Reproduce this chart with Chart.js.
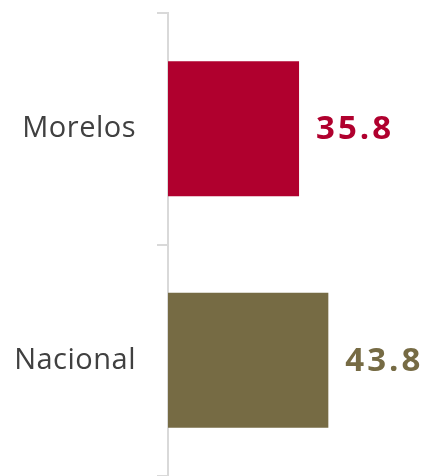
<!DOCTYPE html>
<html>
<head>
<meta charset="utf-8">
<script src="https://cdn.jsdelivr.net/npm/chart.js@4.4.1/dist/chart.umd.min.js"></script>
<style>
  html, body { margin: 0; padding: 0; background: #fff; }
  #wrap { width: 429px; height: 476px; position: relative; }
</style>
</head>
<body>
<div id="wrap"><canvas id="barChart"></canvas></div>
<script>
const categories = ['Morelos', 'Nacional'];
const values = [35.8, 43.8];
const barColors = ['#b0002e', '#766b44'];

// value labels at the end of each bar, same colour as the bar
const valueLabels = {
  id: 'valueLabels',
  afterDatasetsDraw(chart) {
    const ctx = chart.ctx;
    const meta = chart.getDatasetMeta(0);
    ctx.save();
    ctx.font = 'bold 33px "Open Sans", sans-serif';
    ctx.letterSpacing = '3px';
    ctx.textAlign = 'left';
    ctx.textBaseline = 'middle';
    meta.data.forEach((bar, i) => {
      ctx.fillStyle = barColors[i];
      ctx.fillText(values[i].toFixed(1), bar.x + 17, bar.y + 1);
    });
    ctx.restore();
  }
};

const spacing = {
  id: 'spacing',
  beforeDraw(chart) { chart.ctx.letterSpacing = '0.5px'; }
};

new Chart(document.getElementById('barChart'), {
  type: 'bar',
  data: {
    labels: categories,
    datasets: [{
      data: values,
      backgroundColor: barColors,
      borderWidth: 0,
      categoryPercentage: 1,
      barPercentage: 0.584
    }]
  },
  plugins: [spacing, valueLabels],
  options: {
    indexAxis: 'y',
    responsive: true,
    maintainAspectRatio: false,
    animation: false,
    layout: { padding: { top: 13, right: 0, bottom: 0, left: 0 } },
    plugins: {
      legend: { display: false },
      tooltip: { enabled: false }
    },
    scales: {
      x: { display: false, min: 0, max: 71.3 },
      y: {
        afterFit: (scale) => {
          scale.width = 168;
          scale.paddingTop = 0;
          scale.paddingBottom = 0;
        },
        grid: {
          offset: true,
          drawOnChartArea: false,
          tickLength: 11,
          color: '#d9d9d9',
          lineWidth: 2
        },
        border: { display: true, color: '#d9d9d9', width: 2 },
        ticks: {
          color: '#404040',
          padding: 21,
          font: { family: '"Open Sans", sans-serif', size: 29 }
        }
      }
    }
  }
});
</script>
</body>
</html>
